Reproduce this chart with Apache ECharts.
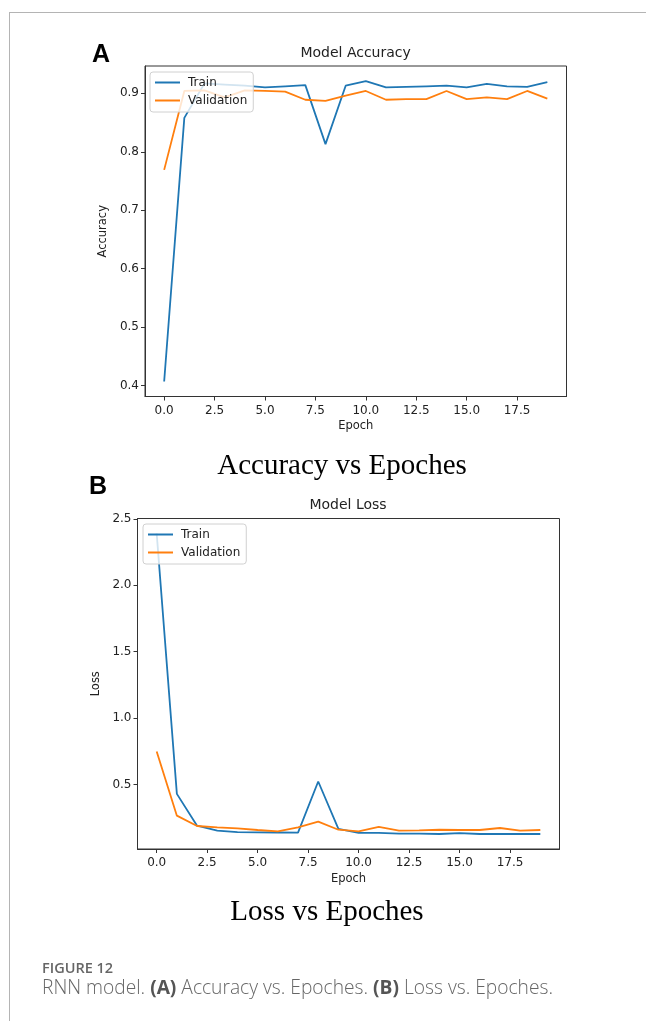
<!DOCTYPE html>
<html>
<head>
<meta charset="utf-8">
<script src="https://cdn.jsdelivr.net/npm/echarts@6/dist/echarts.min.js"></script>
<style>
  html, body { margin: 0; padding: 0; background: #fff; }
  #frame { position: absolute; left: 9px; top: 12px; width: 637px; height: 1009px;
           border-left: 1px solid #b4b4b4; border-top: 1px solid #b4b4b4; }
  #chart { position: absolute; left: 0; top: 0; width: 646px; height: 1021px; }
  .fig { position: absolute; left: 42px; font-family: "Open Sans", sans-serif; color: #666; white-space: nowrap; }
  #fignum { top: 959px; font-size: 14.5px; font-weight: 600; line-height: 18px; }
  #figcap { top: 976px; font-size: 19.2px; line-height: 22px; font-weight: 300; }
  #figcap b { font-weight: 700; color: #555; }
</style>
</head>
<body>
<div id="frame"></div>
<div id="chart"></div>
<div class="fig" id="fignum">FIGURE 12</div>
<div class="fig" id="figcap">RNN model. <b>(A)</b> Accuracy vs. Epoches. <b>(B)</b> Loss vs. Epoches.</div>
<script>
// epochs and values
var epochs = [0, 1, 2, 3, 4, 5, 6, 7, 8, 9, 10, 11, 12, 13, 14, 15, 16, 17, 18, 19];

var accTrain = [0.407, 0.858, 0.917, 0.915, 0.913, 0.910, 0.912, 0.914, 0.813, 0.913,
                0.921, 0.910, 0.911, 0.912, 0.913, 0.910, 0.916, 0.912, 0.911, 0.919];
var accVal   = [0.769, 0.904, 0.905, 0.893, 0.905, 0.904, 0.903, 0.889, 0.887, 0.896,
                0.904, 0.889, 0.890, 0.890, 0.904, 0.890, 0.893, 0.890, 0.904, 0.891];

var lossTrain = [2.39, 0.43, 0.19, 0.153, 0.142, 0.140, 0.139, 0.138, 0.523, 0.166,
                 0.136, 0.136, 0.131, 0.131, 0.128, 0.134, 0.128, 0.128, 0.128, 0.128];
var lossVal   = [0.749, 0.266, 0.188, 0.178, 0.170, 0.158, 0.148, 0.178, 0.221, 0.160,
                 0.148, 0.181, 0.153, 0.155, 0.160, 0.158, 0.158, 0.173, 0.153, 0.158];

var xTicks = [0, 2.5, 5, 7.5, 10, 12.5, 15, 17.5];
var accTicks = [0.4, 0.5, 0.6, 0.7, 0.8, 0.9];
var lossTicks = [0.5, 1.0, 1.5, 2.0, 2.5];

var blue = '#1f77b4', orange = '#ff7f0e';
var mpl = '"DejaVu Sans", sans-serif';

// matplotlib style 5% margins
function limits(arrs) {
    var all = [].concat.apply([], arrs);
    var lo = Math.min.apply(null, all), hi = Math.max.apply(null, all);
    var m = (hi - lo) * 0.05;
    return [lo - m, hi + m];
}

function pairs(ys) {
    return epochs.map(function (e, i) { return [e, ys[i]]; });
}

var xLim = limits([epochs]);
var accLim = limits([accTrain, accVal]);
var lossLim = limits([lossTrain, lossVal]);

function xAxis(idx) {
    return {
        type: 'value', gridIndex: idx, min: xLim[0], max: xLim[1],
        name: 'Epoch', nameLocation: 'middle', nameGap: 24,
        nameTextStyle: { fontFamily: mpl, fontSize: 11.5, color: '#222' },
        axisLine: { show: true, onZero: false, lineStyle: { color: '#333' } },
        axisTick: { show: true, length: 4, customValues: xTicks, lineStyle: { color: '#333' } },
        axisLabel: { customValues: xTicks, margin: 8, fontFamily: mpl, fontSize: 12, color: '#222',
                     formatter: function (v) { return v.toFixed(1); } },
        splitLine: { show: false }
    };
}

function yAxis(idx, lim, ticks, name) {
    return {
        type: 'value', gridIndex: idx, min: lim[0], max: lim[1],
        name: name, nameLocation: 'middle', nameGap: 34,
        nameTextStyle: { fontFamily: mpl, fontSize: 11.5, color: '#222' },
        axisLine: { show: true, onZero: false, lineStyle: { color: '#333' } },
        axisTick: { show: true, length: 4, customValues: ticks, lineStyle: { color: '#333' } },
        axisLabel: { customValues: ticks, margin: 6, fontFamily: mpl, fontSize: 12, color: '#222',
                     formatter: function (v) { return v.toFixed(1); } },
        splitLine: { show: false }
    };
}

function legend(left, top) {
    return {
        left: left, top: top, orient: 'vertical', data: ['Train', 'Validation'],
        icon: 'rect', itemWidth: 25, itemHeight: 2, itemGap: 5,
        padding: [4, 6, 5, 5], backgroundColor: 'rgba(255,255,255,0.8)',
        borderColor: '#d0d0d0', borderWidth: 1, borderRadius: 3,
        textStyle: { fontFamily: mpl, fontSize: 12, color: '#222', lineHeight: 13, padding: [0, 0, 0, 3] },
        selectedMode: false
    };
}

function line(name, xi, ys, color) {
    return {
        name: name, type: 'line', xAxisIndex: xi, yAxisIndex: xi, data: pairs(ys),
        symbol: 'none', lineStyle: { width: 1.8, color: color }, itemStyle: { color: color }
    };
}

function label(text, x, y, font, color) {
    return {
        type: 'text', x: x, y: y,
        style: { text: text, font: font, fill: color || '#000',
                 textAlign: 'center', textVerticalAlign: 'middle', align: 'center', verticalAlign: 'middle' }
    };
}

var chart = echarts.init(document.getElementById('chart'));
chart.setOption({
    animation: false,
    grid: [
        { left: 145, top: 66, width: 421.5, height: 330.5, show: true, borderColor: '#333', borderWidth: 1 },
        { left: 137.5, top: 518.5, width: 422, height: 330.5, show: true, borderColor: '#333', borderWidth: 1 }
    ],
    xAxis: [xAxis(0), xAxis(1)],
    yAxis: [yAxis(0, accLim, accTicks, 'Accuracy'), yAxis(1, lossLim, lossTicks, 'Loss')],
    legend: [legend(150, 72), legend(143, 524)],
    series: [
        line('Train', 0, accTrain, blue),
        line('Validation', 0, accVal, orange),
        line('Train', 1, lossTrain, blue),
        line('Validation', 1, lossVal, orange)
    ],
    graphic: [
        label('Model Accuracy', 355.6, 53.5, '14px ' + mpl, '#222'),
        label('Model Loss', 348, 505.7, '14px ' + mpl, '#222'),
        label('A', 101, 55, 'bold 25px "Liberation Sans", Arial, sans-serif'),
        label('B', 98, 487, 'bold 25px "Liberation Sans", Arial, sans-serif'),
        label('Accuracy vs Epoches', 342, 466, '29px "Liberation Serif", "Times New Roman", serif'),
        label('Loss vs Epoches', 327, 912, '29px "Liberation Serif", "Times New Roman", serif')
    ]
});
</script>
</body>
</html>
